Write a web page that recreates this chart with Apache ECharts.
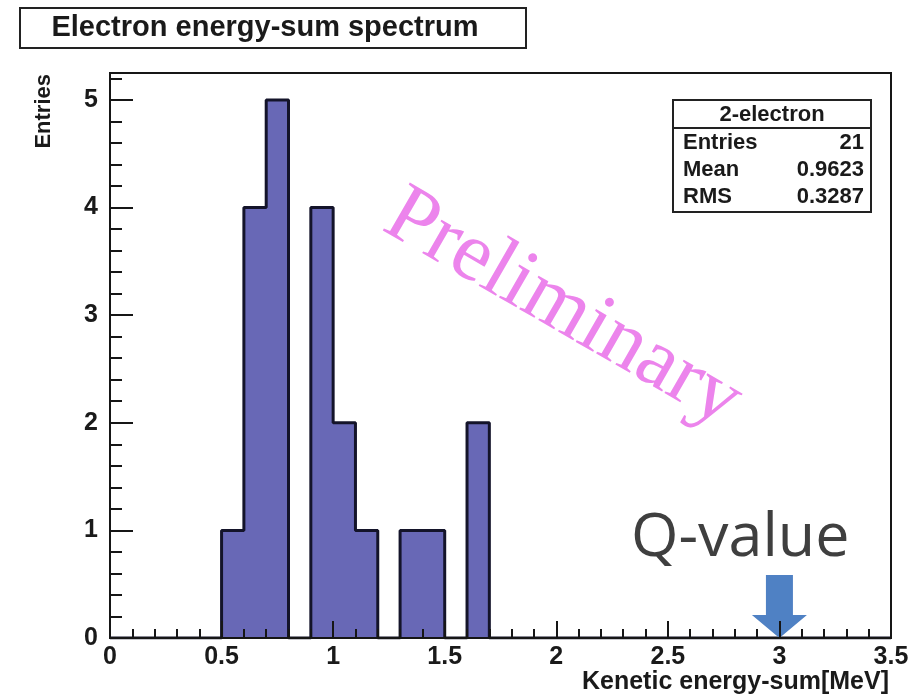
<!DOCTYPE html>
<html>
<head>
<meta charset="utf-8">
<title>Electron energy-sum spectrum</title>
<script src="https://cdn.jsdelivr.net/npm/echarts@6/dist/echarts.min.js"></script>
<style>
  html, body { margin: 0; padding: 0; background: #ffffff; }
  #chart { width: 921px; height: 699px; }
</style>
</head>
<body>
<div id="chart"></div>
<script>
// Histogram binning (MeV)
const binWidth = 0.1;
const xMin = 0;
const xMax = 3.5;
// Counts per 0.1 MeV bin, from 0.0 to 3.5 MeV
const counts = [
  0, 0, 0, 0, 0, 1, 4, 5, 0, 4,
  2, 1, 0, 1, 1, 0, 2, 0, 0, 0,
  0, 0, 0, 0, 0, 0, 0, 0, 0, 0,
  0, 0, 0, 0, 0
];
// Statistics box
const statsTitle = '2-electron';
const statMean = '0.9623';
const statRms = '0.3287';
// Q-value marker (MeV)
const qValue = 3.0;

const xTickLabels = ['0', '0.5', '1', '1.5', '2', '2.5', '3', '3.5'];
const yTickLabels = ['0', '1', '2', '3', '4', '5'];

const entries = counts.reduce((a, b) => a + b, 0);

// Step outline: one point per lower bin edge, closed at the last upper edge
const stepData = counts.map((c, i) => [Number((xMin + i * binWidth).toFixed(2)), c]);
stepData.push([xMax, counts[counts.length - 1]]);

const ink = '#161616';
const labelFont = { fontFamily: 'Liberation Sans', fontWeight: 'bold', fontSize: 25, color: '#1a1a1a' };

const chart = echarts.init(document.getElementById('chart'), null, { renderer: 'canvas' });

chart.setOption({
  animation: false,
  backgroundColor: '#ffffff',
  grid: {
    left: 110, right: 30, top: 73, bottom: 61,
    show: true, backgroundColor: '#ffffff',
    borderColor: ink, borderWidth: 2
  },
  xAxis: [{
    type: 'value', min: xMin, max: xMax, interval: 0.5, z: 10,
    axisLine: { show: true, onZero: false, lineStyle: { color: ink, width: 2 } },
    axisTick: { show: true, inside: true, length: 17, lineStyle: { color: ink, width: 2 } },
    minorTick: { show: true, splitNumber: 5, length: 9, lineStyle: { color: ink, width: 2 } },
    axisLabel: Object.assign({ margin: 7, formatter: (v) => {
      const i = Math.round(v / 0.5);
      return xTickLabels[i] !== undefined ? xTickLabels[i] : '';
    } }, labelFont),
    splitLine: { show: false }
  }],
  yAxis: [{
    type: 'value', min: 0, max: 5.25, interval: 1, z: 10,
    axisLine: { show: true, onZero: false, lineStyle: { color: ink, width: 2 } },
    axisTick: { show: true, inside: true, length: 23, lineStyle: { color: ink, width: 2 } },
    axisLabel: Object.assign({ margin: 12, showMaxLabel: false, formatter: (v) => {
      return Number.isInteger(v) && yTickLabels[v] !== undefined ? yTickLabels[v] : '';
    } }, labelFont),
    splitLine: { show: false }
  }, {
    // minor divisions of the count axis
    type: 'value', min: 0, max: 5.25, interval: 0.2, position: 'left', z: 10,
    axisLine: { show: false },
    axisTick: { show: true, inside: true, length: 12, lineStyle: { color: ink, width: 2 } },
    axisLabel: { show: false },
    splitLine: { show: false }
  }],
  series: [{
    type: 'line',
    xAxisIndex: 0, yAxisIndex: 0,
    step: 'end',
    data: stepData,
    symbol: 'none',
    lineStyle: { color: '#14142a', width: 3 },
    areaStyle: { color: '#6868b6', opacity: 1 },
    z: 3,
    markPoint: {
      silent: true,
      symbol: 'path://M14,0 L41,0 L41,40 L55,40 L27.5,63 L0,40 L14,40 Z',
      symbolSize: [55, 63],
      symbolOffset: [0, '-50%'],
      itemStyle: { color: '#4f81c4' },
      label: { show: false },
      data: [{ coord: [qValue, 0] }]
    }
  }],
  graphic: [
    // histogram title box
    { type: 'rect', shape: { x: 20, y: 8, width: 506, height: 40 },
      style: { fill: '#ffffff', stroke: '#222222', lineWidth: 2 }, z: 20 },
    { type: 'text', x: 265, y: 28, z: 21,
      style: { text: 'Electron energy-sum spectrum', fontFamily: 'Liberation Sans', fontWeight: 'bold',
               fontSize: 29, fill: '#1a1a1a', align: 'center', verticalAlign: 'middle' } },

    // statistics box
    { type: 'rect', shape: { x: 673, y: 100, width: 198, height: 112 },
      style: { fill: '#ffffff', stroke: '#222222', lineWidth: 2 }, z: 20 },
    { type: 'line', shape: { x1: 673, y1: 128, x2: 871, y2: 128 },
      style: { stroke: '#222222', lineWidth: 2 }, z: 21 },
    { type: 'text', x: 772, y: 115, z: 21,
      style: { text: statsTitle, fontFamily: 'Liberation Sans', fontWeight: 'bold', fontSize: 22,
               fill: '#1a1a1a', align: 'center', verticalAlign: 'middle' } },
    { type: 'text', x: 683, y: 143, z: 21,
      style: { text: 'Entries', fontFamily: 'Liberation Sans', fontWeight: 'bold', fontSize: 22,
               fill: '#1a1a1a', align: 'left', verticalAlign: 'middle' } },
    { type: 'text', x: 864, y: 143, z: 21,
      style: { text: String(entries), fontFamily: 'Liberation Sans', fontWeight: 'bold', fontSize: 22,
               fill: '#1a1a1a', align: 'right', verticalAlign: 'middle' } },
    { type: 'text', x: 683, y: 170, z: 21,
      style: { text: 'Mean', fontFamily: 'Liberation Sans', fontWeight: 'bold', fontSize: 22,
               fill: '#1a1a1a', align: 'left', verticalAlign: 'middle' } },
    { type: 'text', x: 864, y: 170, z: 21,
      style: { text: statMean, fontFamily: 'Liberation Sans', fontWeight: 'bold', fontSize: 22,
               fill: '#1a1a1a', align: 'right', verticalAlign: 'middle' } },
    { type: 'text', x: 683, y: 197, z: 21,
      style: { text: 'RMS', fontFamily: 'Liberation Sans', fontWeight: 'bold', fontSize: 22,
               fill: '#1a1a1a', align: 'left', verticalAlign: 'middle' } },
    { type: 'text', x: 864, y: 197, z: 21,
      style: { text: statRms, fontFamily: 'Liberation Sans', fontWeight: 'bold', fontSize: 22,
               fill: '#1a1a1a', align: 'right', verticalAlign: 'middle' } },

    // axis titles
    { type: 'text', x: 44, y: 74, rotation: Math.PI / 2, z: 21,
      style: { text: 'Entries', fontFamily: 'Liberation Sans', fontWeight: 'bold', fontSize: 22,
               fill: '#1a1a1a', align: 'right', verticalAlign: 'middle' } },
    { type: 'text', x: 889, y: 682, z: 21,
      style: { text: 'Kenetic energy-sum[MeV]', fontFamily: 'Liberation Sans', fontWeight: 'bold', fontSize: 25,
               fill: '#1a1a1a', align: 'right', verticalAlign: 'middle' } },

    // watermark
    { type: 'text', x: 563, y: 309, rotation: -30 * Math.PI / 180, z: 15,
      style: { text: 'Preliminary', fontFamily: 'Liberation Serif', fontSize: 84,
               fill: '#ec84ec', align: 'center', verticalAlign: 'middle' } },

    // Q-value annotation
    { type: 'text', x: 631, y: 539, z: 15,
      style: { text: 'Q-value', fontFamily: 'Open Sans', fontSize: 61,
               fill: '#3f3f3f', align: 'left', verticalAlign: 'middle' } }
  ]
});
</script>
</body>
</html>
